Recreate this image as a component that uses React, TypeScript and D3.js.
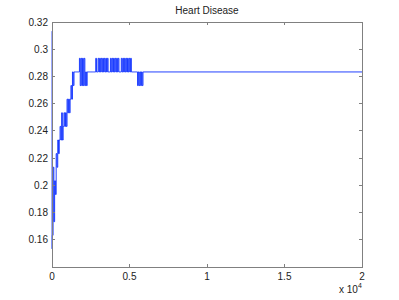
import React from "react";
import * as d3 from "d3";

const title = "Heart Disease";
const xTicks = [0, 5000, 10000, 15000, 20000];
const xTickLabels = ["0", "0.5", "1", "1.5", "2"];
const yTicks = [0.16, 0.18, 0.2, 0.22, 0.24, 0.26, 0.28, 0.3, 0.32];
const yTickLabels = ["0.16", "0.18", "0.2", "0.22", "0.24", "0.26", "0.28", "0.3", "0.32"];

// first recorded points
const startIters = [0, 5];
const startErrs = [0.3133, 0.1533];
// error sampled every 50 iterations starting at iteration 20
const sampleStart = 20;
const sampleStep = 50;
const sampledErr = [
  0.1633, 0.2133, 0.1733, 0.2033, 0.1933, 0.2233, 0.2133, 0.2333, 0.2233, 0.2333,
  0.2433, 0.2333, 0.2533, 0.2333, 0.2433, 0.2533, 0.2433, 0.2533, 0.2433, 0.2633,
  0.2533, 0.2633, 0.2533, 0.2633, 0.2733, 0.2633, 0.2833, 0.2733, 0.2833, 0.2833,
  0.2833, 0.2833, 0.2833, 0.2833, 0.2833, 0.2933, 0.2733, 0.2933, 0.2733, 0.2933,
  0.2733, 0.2933, 0.2733, 0.2833, 0.2733, 0.2833, 0.2833, 0.2833, 0.2833, 0.2833,
  0.2833, 0.2833, 0.2833, 0.2833, 0.2833, 0.2833, 0.2933, 0.2833, 0.2833, 0.2933,
  0.2833, 0.2933, 0.2833, 0.2933, 0.2833, 0.2933, 0.2833, 0.2933, 0.2833, 0.2933,
  0.2833, 0.2933, 0.2833, 0.2833, 0.2833, 0.2933, 0.2833, 0.2933, 0.2833, 0.2933,
  0.2833, 0.2933, 0.2833, 0.2933, 0.2833, 0.2933, 0.2833, 0.2833, 0.2833, 0.2933,
  0.2833, 0.2933, 0.2833, 0.2933, 0.2833, 0.2933, 0.2833, 0.2933, 0.2833, 0.2933,
  0.2833, 0.2933, 0.2833, 0.2833, 0.2833, 0.2833, 0.2833, 0.2833, 0.2833, 0.2833,
  0.2733, 0.2833, 0.2733, 0.2833, 0.2733, 0.2833, 0.2733, 0.2833, 0.2833,
];
const endIter = 20000;
const endErr = 0.2833;

const W = 399;
const H = 300;
const margin = { left: 52, right: 37, top: 22, bottom: 33 };

export default function App() {
  const x = d3.scaleLinear().domain([0, 20000]).range([margin.left, W - margin.right]);
  const y = d3.scaleLinear().domain([0.14, 0.32]).range([H - margin.bottom, margin.top]);

  const pts: [number, number][] = startIters.map((it, i) => [it, startErrs[i]] as [number, number]);
  sampledErr.forEach((v, i) => pts.push([sampleStart + i * sampleStep, v]));
  pts.push([endIter, endErr]);

  const line = d3
    .line<[number, number]>()
    .x((d) => x(d[0]))
    .y((d) => y(d[1]))
    .curve(d3.curveStepAfter);

  const x0 = x(0), x1 = x(20000), y0 = y(0.14), y1 = y(0.32);
  const font = "'Liberation Sans', Arial, Helvetica, sans-serif";
  const axisColor = "#808080";
  const tl = 3;

  return (
    <svg
      width={W}
      height={H}
      style={{ position: "absolute", left: 0, top: 0, background: "#fff" }}
      fontFamily={font}
    >
      <rect x={0} y={0} width={W} height={H} fill="#fff" />
      <path d={line(pts) || ""} fill="none" stroke="#0a2cff" strokeWidth={0.9} />
      <g stroke={axisColor} strokeWidth={1} shapeRendering="crispEdges" fill="none">
        <rect x={x0} y={y1} width={x1 - x0} height={y0 - y1} />
        {xTicks.map((t) => (
          <g key={"xt" + t}>
            <line x1={x(t)} x2={x(t)} y1={y0} y2={y0 - tl} />
            <line x1={x(t)} x2={x(t)} y1={y1} y2={y1 + tl} />
          </g>
        ))}
        {yTicks.map((t) => (
          <g key={"yt" + t}>
            <line x1={x0} x2={x0 + tl} y1={y(t)} y2={y(t)} />
            <line x1={x1} x2={x1 - tl} y1={y(t)} y2={y(t)} />
          </g>
        ))}
      </g>
      <g fontSize={10} fill="#222">
        {yTicks.map((t, i) => (
          <text key={"yl" + t} x={x0 - 4} y={y(t)} dy="0.35em" textAnchor="end">
            {yTickLabels[i]}
          </text>
        ))}
        {xTicks.map((t, i) => (
          <text key={"xl" + t} x={x(t)} y={y0 + 13} textAnchor="middle">
            {xTickLabels[i]}
          </text>
        ))}
        <text x={339} y={y0 + 26}>
          x 10
          <tspan fontSize={7} dy={-5}>4</tspan>
        </text>
        <text x={(x0 + x1) / 2} y={14} textAnchor="middle">
          {title}
        </text>
      </g>
    </svg>
  );
}
